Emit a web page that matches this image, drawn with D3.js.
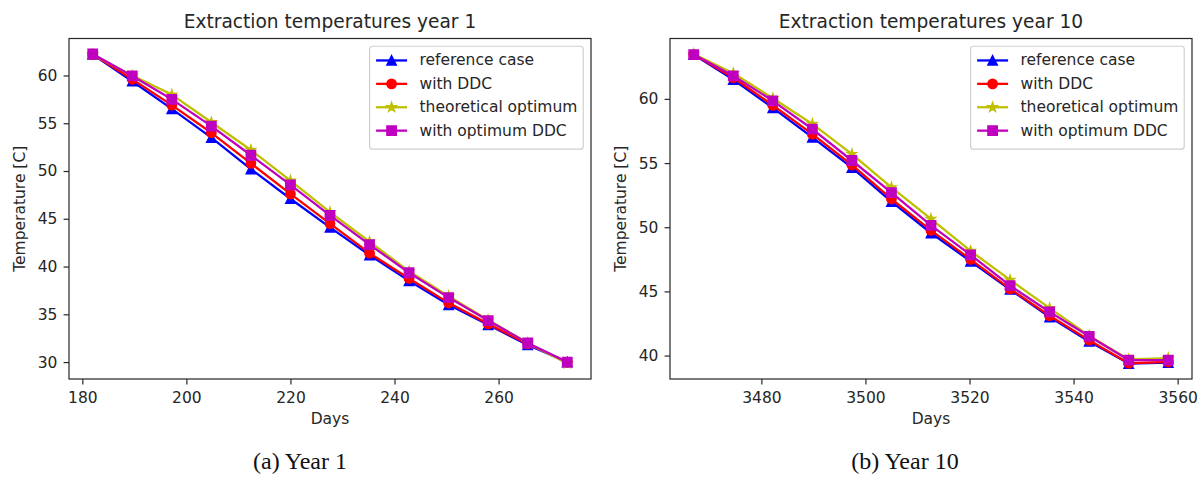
<!DOCTYPE html>
<html>
<head>
<meta charset="utf-8">
<script src="https://cdn.jsdelivr.net/npm/d3@7"></script>
<style>
  html, body { margin: 0; padding: 0; background: #fff; }
  svg { display: block; }
</style>
</head>
<body>
<script>
// Series shared by both panels
const seriesNames   = ["reference case", "with DDC", "theoretical optimum", "with optimum DDC"];
const seriesColors  = ["#0000ff", "#ff0000", "#bfbf00", "#bf00bf"];
const seriesMarkers = ["triangle", "circle", "star", "square"];

// Year 1: extraction temperatures [C] per day
const daysYear1        = [182, 189.6, 197.2, 204.8, 212.4, 220, 227.6, 235.2, 242.8, 250.4, 258, 265.6, 273.2];
const referenceYear1   = [62.2, 59.4, 56.5, 53.5, 50.2, 47.1, 44.1, 41.2, 38.5, 36.0, 33.9, 31.8, 30.0];
const withDDCYear1     = [62.2, 59.6, 56.9, 54.0, 50.8, 47.6, 44.5, 41.4, 38.75, 36.2, 34.0, 31.9, 30.0];
const theoreticalYear1 = [62.2, 60.0, 58.0, 55.1, 52.2, 49.0, 45.7, 42.6, 39.5, 36.9, 34.4, 32.0, 29.85];
const optimumDDCYear1  = [62.25, 59.95, 57.5, 54.7, 51.65, 48.55, 45.35, 42.3, 39.35, 36.75, 34.35, 32.0, 30.0];
const xTicksYear1 = [180, 200, 220, 240, 260];
const yTicksYear1 = [30, 35, 40, 45, 50, 55, 60];

// Year 10: extraction temperatures [C] per day
const daysYear10        = [3467, 3474.6, 3482.2, 3489.8, 3497.4, 3505, 3512.6, 3520.2, 3527.8, 3535.4, 3543, 3550.6, 3558.2];
const referenceYear10   = [63.45, 61.5, 59.3, 57.0, 54.65, 52.0, 49.55, 47.35, 45.15, 43.0, 41.1, 39.38, 39.45];
const withDDCYear10     = [63.45, 61.65, 59.5, 57.25, 54.85, 52.2, 49.75, 47.5, 45.2, 43.1, 41.2, 39.4, 39.5];
const theoreticalYear10 = [63.5, 62.0, 60.05, 58.05, 55.7, 53.1, 50.65, 48.15, 45.9, 43.7, 41.55, 39.7, 39.8];
const optimumDDCYear10  = [63.45, 61.8, 59.85, 57.65, 55.2, 52.7, 50.15, 47.85, 45.45, 43.4, 41.5, 39.65, 39.65];
const xTicksYear10 = [3480, 3500, 3520, 3540, 3560];
const yTicksYear10 = [40, 45, 50, 55, 60];

const W = 1201, H = 481;
const FONT = "'DejaVu Sans', sans-serif";
const FS = 15.5;          // tick / label / legend size
const TEXT = "#262626";
const MS = 9.3;           // marker size
const LW = 2.3;           // line width

const svg = d3.select("body").append("svg")
  .attr("width", W).attr("height", H)
  .attr("viewBox", `0 0 ${W} ${H}`);
svg.append("rect").attr("width", W).attr("height", H).attr("fill", "#fff");

// Marker outlines centred on the origin
function markerPath(kind, s) {
  const r = s / 2;
  if (kind === "triangle") return `M0,${-r}L${r},${r}L${-r},${r}Z`;
  if (kind === "square") return `M${-r},${-r}H${r}V${r}H${-r}Z`;
  if (kind === "circle") return `M${r},0A${r},${r} 0 1,1 ${-r},0A${r},${r} 0 1,1 ${r},0Z`;
  // five-pointed star
  const inner = r * 0.381966;
  const pts = [];
  for (let k = 0; k < 10; k++) {
    const a = -Math.PI / 2 + k * Math.PI / 5;
    const rr = k % 2 === 0 ? r : inner;
    pts.push([rr * Math.cos(a), rr * Math.sin(a)]);
  }
  return "M" + pts.map(p => p[0].toFixed(2) + "," + p[1].toFixed(2)).join("L") + "Z";
}

function padded(ext) {
  const r = ext[1] - ext[0];
  return [ext[0] - 0.05 * r, ext[1] + 0.05 * r];
}

function drawPanel(o) {
  const x = d3.scaleLinear().domain(padded(d3.extent(o.days))).range([o.left, o.right]);
  const y = d3.scaleLinear().domain(padded(d3.extent(o.series.flat()))).range([o.bottom, o.top]);
  const g = svg.append("g");

  const clipId = "clip" + o.id;
  g.append("clipPath").attr("id", clipId).append("rect")
    .attr("x", o.left).attr("y", o.top)
    .attr("width", o.right - o.left).attr("height", o.bottom - o.top);

  const plot = g.append("g").attr("clip-path", `url(#${clipId})`);
  const line = d3.line().x((d, j) => x(o.days[j])).y(d => y(d));

  o.series.forEach((vals, i) => {
    plot.append("path")
      .attr("d", line(vals))
      .attr("fill", "none")
      .attr("stroke", seriesColors[i])
      .attr("stroke-width", LW)
      .attr("stroke-linejoin", "round")
      .attr("stroke-linecap", "square");
    plot.append("g").selectAll("path")
      .data(vals)
      .join("path")
      .attr("transform", (d, j) => `translate(${x(o.days[j])},${y(d)})`)
      .attr("d", markerPath(seriesMarkers[i], MS))
      .attr("fill", seriesColors[i])
      .attr("stroke", seriesColors[i])
      .attr("stroke-width", 1.5)
      .attr("stroke-linejoin", "miter");
  });

  // x axis
  const xa = g.append("g")
    .attr("transform", `translate(0,${o.bottom})`)
    .call(d3.axisBottom(x).tickValues(o.xTicks).tickSize(5.4).tickPadding(7.9).tickFormat(d3.format("d")));
  // y axis
  const ya = g.append("g")
    .attr("transform", `translate(${o.left},0)`)
    .call(d3.axisLeft(y).tickValues(o.yTicks).tickSize(5.4).tickPadding(6.2).tickFormat(d3.format("d")));
  [xa, ya].forEach(a => {
    a.select(".domain").remove();
    a.attr("font-family", FONT).attr("font-size", FS);
    a.selectAll(".tick line").attr("stroke", TEXT).attr("stroke-width", 1.2);
    a.selectAll(".tick text").attr("fill", TEXT);
  });

  // frame
  g.append("rect")
    .attr("x", o.left).attr("y", o.top)
    .attr("width", o.right - o.left).attr("height", o.bottom - o.top)
    .attr("fill", "none").attr("stroke", TEXT).attr("stroke-width", 1.2);

  // title and axis labels
  g.append("text")
    .attr("x", (o.left + o.right) / 2).attr("y", 28)
    .attr("text-anchor", "middle")
    .attr("font-family", FONT).attr("font-size", 18.6).attr("fill", TEXT)
    .text(o.title);
  g.append("text")
    .attr("x", (o.left + o.right) / 2).attr("y", 424)
    .attr("text-anchor", "middle")
    .attr("font-family", FONT).attr("font-size", FS).attr("fill", TEXT)
    .text("Days");
  g.append("text")
    .attr("transform", `translate(${o.left - 44.5},${(o.top + o.bottom) / 2}) rotate(-90)`)
    .attr("text-anchor", "middle")
    .attr("font-family", FONT).attr("font-size", FS).attr("fill", TEXT)
    .text("Temperature [C]");

  // legend (upper right)
  const pad = 0.4 * FS, handle = 2 * FS, gap = 0.8 * FS, rowH = 23.4;
  const lg = g.append("g");
  const box = lg.append("rect");
  const labels = seriesNames.map((name, i) => {
    return lg.append("text")
      .attr("font-family", FONT).attr("font-size", FS).attr("fill", TEXT)
      .text(name);
  });
  const maxW = d3.max(labels, t => t.node().getComputedTextLength());
  const bw = pad * 2 + handle + gap + maxW;
  const bh = pad * 2 + rowH * seriesNames.length - 0.2 * FS;
  const bx = o.right - 7.75 - bw, by = o.top + 7.75;
  box.attr("x", bx).attr("y", by).attr("width", bw).attr("height", bh)
    .attr("rx", 3).attr("fill", "#fff").attr("fill-opacity", 0.8)
    .attr("stroke", "#d0d0d0").attr("stroke-width", 1.2);
  seriesNames.forEach((name, i) => {
    const cy = by + pad + 8 + i * rowH;
    const hx = bx + pad + 0.3;
    lg.append("line")
      .attr("x1", hx).attr("x2", hx + handle).attr("y1", cy).attr("y2", cy)
      .attr("stroke", seriesColors[i]).attr("stroke-width", LW);
    lg.append("path")
      .attr("transform", `translate(${hx + handle / 2},${cy})`)
      .attr("d", markerPath(seriesMarkers[i], MS))
      .attr("fill", seriesColors[i]).attr("stroke", seriesColors[i]).attr("stroke-width", 1.5);
    labels[i].attr("x", hx + handle + gap).attr("y", cy + 5);
  });

  // sub-figure caption
  svg.append("text")
    .attr("x", o.captionX).attr("y", 469)
    .attr("text-anchor", "middle")
    .attr("font-family", "'Liberation Serif', serif").attr("font-size", 24).attr("fill", "#111")
    .text(o.caption);
}

drawPanel({
  id: "a", left: 69, right: 591, top: 38.5, bottom: 379,
  days: daysYear1,
  series: [referenceYear1, withDDCYear1, theoreticalYear1, optimumDDCYear1],
  xTicks: xTicksYear1, yTicks: yTicksYear1,
  title: "Extraction temperatures year 1",
  caption: "(a) Year 1", captionX: 300
});

drawPanel({
  id: "b", left: 670, right: 1192, top: 38.5, bottom: 379,
  days: daysYear10,
  series: [referenceYear10, withDDCYear10, theoreticalYear10, optimumDDCYear10],
  xTicks: xTicksYear10, yTicks: yTicksYear10,
  title: "Extraction temperatures year 10",
  caption: "(b) Year 10", captionX: 905
});
</script>
</body>
</html>
